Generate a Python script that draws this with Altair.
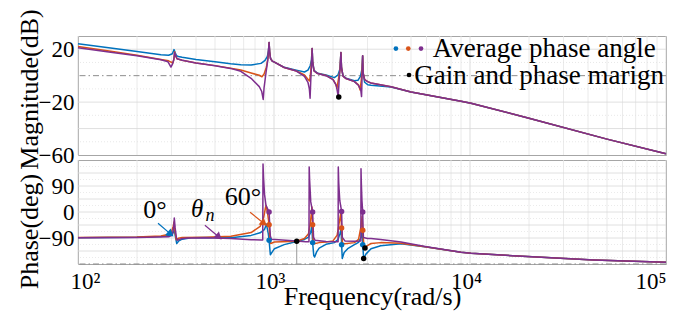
import altair as alt
import pandas as pd

FONT = "Liberation Serif"
BLUE, ORANGE, PURPLE = "#0072BD", "#D95319", "#7E2F8E"

# ---------------- magnitude (dB) ----------------
mag_blue_f = [100, 150, 200, 265, 290, 303, 309, 313, 318, 325, 340, 400, 500, 600, 677, 764, 859, 900, 925, 937,
              944, 950, 960, 980, 1005, 1127, 1300, 1430, 1490, 1530, 1553, 1565, 1575, 1600, 1671, 1842, 2032, 2120,
              2170, 2195, 2210, 2250, 2330, 2573, 2680, 2760, 2810, 2833, 2850, 2900, 3006, 3126, 3954, 5000, 9000,
              10116, 20000, 50000, 100000]
mag_blue_db = [24.2, 20.8, 18.3, 15.8, 15.4, 16.6, 19.7, 17.5, 15.2, 14.5, 13.9, 12.3, 10.5, 9.0, 8.3, 8.0, 9.3, 11.5,
               14.5, 19.0, 25.0, 18.0, 13.0, 11.0, 10.2, 6.3, 4.2, 2.8, 4.2, 7.5, 12.0, 20.5, 11.0, 4.0, 1.8, 0.5, -1.5,
               0.5, 5.0, 17.5, 6.0, 0.0, -2.0, -3.8, -3.5, -0.5, 5.0, 15.0, 2.0, -5.0, -6.8, -7.2, -8.6, -12.3, -19.3,
               -20.8, -32.2, -48.0, -59.0]

mag_orange_f = [100, 150, 200, 265, 290, 298, 305, 309, 311, 314, 320, 340, 400, 500, 600, 677, 764, 841, 868, 890,
                915, 935, 944, 950, 960, 980, 1005, 1127, 1300, 1430, 1500, 1520, 1540, 1556, 1565, 1575, 1600, 1671,
                1842, 2000, 2060, 2094, 2130, 2170, 2195, 2210, 2250, 2330, 2573, 2700, 2751, 2790, 2815, 2833, 2850,
                2900, 3006, 3126, 3954, 5000, 9000, 10116, 20000, 50000, 100000]
mag_orange_db = [22.0, 18.2, 15.5, 12.3, 11.2, 10.3, 9.6, 13.0, 18.0, 15.5, 12.8, 11.6, 9.6, 7.6, 5.6, 4.3, 2.0, 0.3,
                 -0.8, 1.2, 6.5, 15.0, 25.0, 18.0, 13.0, 11.0, 10.2, 6.2, 3.6, 0.5, -3.2, -4.0, 3.0, 12.0, 20.5, 10.0,
                 3.6, 1.6, 0.2, -2.8, -6.0, -9.5, -3.0, 4.0, 17.5, 6.0, -0.3, -2.2, -4.5, -7.0, -10.8, -3.0, 5.0, 15.0,
                 2.0, -3.0, -4.5, -5.5, -8.4, -12.3, -19.3, -20.8, -32.2, -48.0, -59.0]

mag_purple_f = [100, 150, 200, 265, 288, 298, 303, 308, 311, 314, 320, 340, 400, 500, 600, 677, 764, 841, 866, 881,
                890, 910, 930, 944, 950, 960, 980, 1005, 1127, 1300, 1430, 1490, 1515, 1528, 1540, 1556, 1565, 1575,
                1600, 1671, 1842, 2000, 2080, 2127, 2150, 2175, 2195, 2210, 2250, 2330, 2573, 2700, 2770, 2797, 2815,
                2833, 2850, 2900, 3006, 3126, 3954, 5000, 9000, 10116, 20000, 50000, 100000]
mag_purple_db = [21.2, 17.5, 15.0, 12.0, 10.5, 6.5, 8.5, 12.0, 17.5, 15.5, 12.8, 11.6, 9.6, 7.5, 5.5, 3.3, -2.0, -8.3,
                 -12.0, -18.0, -9.0, 2.0, 12.0, 25.0, 18.0, 13.0, 11.0, 10.2, 6.2, 3.5, -0.5, -5.0, -10.0, -17.0, -4.0,
                 10.0, 20.5, 10.0, 3.6, 1.6, 0.0, -3.0, -7.5, -15.8, -3.0, 6.0, 17.5, 6.0, -0.3, -2.2, -4.5, -7.5,
                 -10.5, -15.8, 0.0, 15.0, 2.0, -3.0, -4.5, -5.5, -8.4, -12.3, -19.3, -20.8, -32.2, -48.0, -59.0]

# ---------------- phase (deg) ----------------
ph_blue_f = [100, 200, 265, 290, 303, 310, 314, 319, 327, 340, 378, 450, 603, 764, 850, 895, 915, 935, 944, 958, 980,
             1005, 1127, 1306, 1430, 1500, 1540, 1560, 1574, 1595, 1612, 1650, 1700, 1842, 2032, 2120, 2170, 2200,
             2213, 2230, 2280, 2377, 2573, 2700, 2790, 2822, 2836, 2867, 2950, 3126, 3500, 4446, 6000, 9000, 10116,
             19600, 42800, 100000]
ph_blue_deg = [-89, -87.5, -85, -81, -76, -63, -85, -109, -100, -94, -89.5, -88.5, -89, -81, -72, -60, -42, -75, -98,
               -148, -138, -127, -113, -102, -95, -87, -70, -46, -106, -150, -156, -138, -125, -112, -106, -95, -75,
               -57, -113, -161, -140, -127, -113, -105, -85, -62, -113, -161, -145, -127, -117, -110, -121, -139,
               -143, -154, -166, -174]

ph_orange_f = [100, 200, 265, 287, 300, 306, 309, 313, 317, 325, 340, 450, 603, 764, 850, 885, 905, 912, 930, 944, 952,
               962, 1005, 1306, 1430, 1500, 1535, 1555, 1561, 1574, 1585, 1605, 1700, 1842, 2000, 2100, 2160, 2190,
               2213, 2235, 2300, 2573, 2700, 2780, 2815, 2836, 2870, 2912, 2980, 3126, 3500, 4446, 6000, 9000, 10116,
               19600, 42800, 100000]
ph_orange_deg = [-88, -86.5, -83, -78, -68, -50, -35, -70, -96, -91, -88.5, -87, -84, -71, -50, -20, 15, 23, -10, -44,
                 -95, -109, -104, -101, -92, -75, -35, 5, 17, -44, -100, -110, -106, -104, -100, -80, -30, -5, -55,
                 -108, -110, -106, -95, -50, -15, -63, -110, -125, -117, -109, -106, -108, -121, -139, -143, -154,
                 -166, -174]

ph_purple_f = [100, 200, 290, 303, 308, 310, 313, 318, 322, 335, 360, 450, 603, 764, 860, 876, 879, 884, 895, 910, 944,
               952, 958, 970, 1306, 1450, 1508, 1512, 1520, 1540, 1574, 1583, 1592, 1620, 1842, 2100, 2124, 2128, 2140,
               2165, 2213, 2222, 2232, 2300, 2573, 2775, 2779, 2790, 2810, 2836, 2845, 2860, 3000, 3126, 3500, 4446,
               6000, 9000, 10116, 19600, 42800, 100000]
ph_purple_deg = [-89.5, -88, -86, -80, -50, -21, -55, -90, -98, -93, -90, -89, -92, -96, -97, -97, 166, 120, 60, 23, 0,
                 -50, -83, -94, -100, -103, -103, 156, 110, 35, 0, -50, -88, -98, -102, -103, -103, 156, 100, 40, 2,
                 -50, -88, -100, -101, -100, 150, 100, 40, 0, -50, -88, -92, -92, -95, -104, -120, -139, -143, -154,
                 -166, -174]

# markers
ph_dot_f = [944, 1574, 2213, 2836]
ph_dot_blue = [-98, -106, -113, -113]
ph_dot_orange = [-44, -44, -55, -63]
ph_dot_purple = [0, 0, 2, 0]
margin_ph_f = [1306, 2912, 2867]
margin_ph_deg = [-101, -125, -161]
margin_mag_f = [2140]
margin_mag_db = [-16.2]
pm_line_f = [1306]
pm_line_top = [-101]
pm_line_bottom = [-180]

# axes / grids
x_ticks = [100, 1000, 10000, 100000]
x_tick_text = ["10²", "10³", "10⁴", "10⁵"]
x_minor = [200, 300, 400, 500, 600, 700, 800, 900, 2000, 3000, 4000, 5000, 6000, 7000, 8000, 9000,
           20000, 30000, 40000, 50000, 60000, 70000, 80000, 90000]
mag_ticks = [20, -20, -60]
mag_grid = [20, -20, -40]
mag_grid_minor = [10, -10, -30, -50]
mag_ref = [0]
ph_ticks = [90, 0, -90]
ph_grid = [135, 90, 45, 0, -45, -90, -135]
ph_grid_minor = [157.5, 112.5, 67.5, 22.5, -22.5, -67.5, -112.5, -157.5]
ph_ref = [-180]

# legend / annotations
leg_dot_f = [4188, 4843, 5624]
leg_dot_db = [20.5, 20.5, 20.5]
leg_dot_col = [BLUE, ORANGE, PURPLE]
leg_text = ["Average phase angle", "Gain and phase marign"]
leg_text_f = [6457, 5200]
leg_text_db = [14.25, -6.4]
leg_black_f = [4886]
leg_black_db = [0.5]

ann_text = ["0°", "60°"]
ann_f = [247, 695]
ann_deg = [6, 52]
theta_f, theta_deg = [405], [12]
sub_f, sub_deg = [472], [-15]
arrow_f1 = [256, 444, 755]
arrow_d1 = [-39, -46, -1]
arrow_f2 = [294, 518, 880]
arrow_d2 = [-74, -84, -37]
arrow_col = [BLUE, PURPLE, ORANGE]
arrow_ang = [130, 131, 128]

W = 588
x_scale = alt.Scale(type="log", domain=[100, 100000], nice=False)
mag_scale = alt.Scale(domain=[-60, 30], nice=False)
ph_scale = alt.Scale(domain=[-180, 180], nice=False)

label_expr = " : ".join(f"datum.value == {v} ? '{t}'" for v, t in zip(x_ticks, x_tick_text)) + " : ''"

AX = dict(grid=False, ticks=False, domain=False, labelFont=FONT, titleFont=FONT, labelColor="black",
          titleColor="black", titleFontWeight="normal")

X_TOP = alt.X("f:Q", scale=x_scale, axis=None)
X_BOT = alt.X("f:Q", scale=x_scale, axis=alt.Axis(
    values=x_ticks, labelExpr=label_expr, labelFontSize=23, labelPadding=6, labelFlush=True,
    labelFlushOffset=4, labelOffset=-4, title="Frequency(rad/s)", titleFontSize=26, titleY=40,
    titleBaseline="alphabetic", **AX))
Y_MAG = alt.Y("v:Q", scale=mag_scale, axis=alt.Axis(
    values=mag_ticks, labelFontSize=23, labelPadding=4, title="Magnitude(dB)", titleFontSize=26,
    titleX=-49, titleY=53, titleBaseline="middle", **AX))
Y_PH = alt.Y("v:Q", scale=ph_scale, axis=alt.Axis(
    values=ph_ticks, labelFontSize=23, labelPadding=4, title="Phase(deg)", titleFontSize=26,
    titleX=-49, titleY=71, titleBaseline="middle", **AX))


def d(**cols):
    return pd.DataFrame(cols)


def vgrid(X, vals, color, dash=None):
    m = alt.Chart(d(f=vals)).mark_rule(color=color, strokeWidth=0.8, **({"strokeDash": dash} if dash else {}))
    return m.encode(x=X)


def hgrid(Y, vals, color, dash=None, width=0.8):
    m = alt.Chart(d(v=vals)).mark_rule(color=color, strokeWidth=width, **({"strokeDash": dash} if dash else {}))
    return m.encode(y=Y)


def line(X, Y, f, v, color):
    return alt.Chart(d(f=f, v=v)).mark_line(color=color, strokeWidth=1.5, strokeJoin="round").encode(x=X, y=Y)


def dots(X, Y, f, v, color, size=30):
    return alt.Chart(d(f=f, v=v)).mark_circle(color=color, size=size, opacity=1).encode(x=X, y=Y)


# ---------------- top panel ----------------
top = alt.layer(
    vgrid(X_TOP, x_minor, "#e4e4e4"),
    vgrid(X_TOP, x_ticks, "#d4d4d4"),
    hgrid(Y_MAG, mag_grid_minor, "#e2e2e2", [1, 2]),
    hgrid(Y_MAG, mag_grid, "#d8d8d8"),
    hgrid(Y_MAG, mag_ref, "#8c8c8c", [6, 3, 1.5, 3], 1),
    line(X_TOP, Y_MAG, mag_blue_f, mag_blue_db, BLUE),
    line(X_TOP, Y_MAG, mag_orange_f, mag_orange_db, ORANGE),
    line(X_TOP, Y_MAG, mag_purple_f, mag_purple_db, PURPLE),
    dots(X_TOP, Y_MAG, margin_mag_f, margin_mag_db, "black", 30),
    alt.Chart(d(f=leg_dot_f, v=leg_dot_db, c=leg_dot_col)).mark_circle(size=22, opacity=1).encode(
        x=X_TOP, y=Y_MAG, color=alt.Color("c:N", scale=None)),
    dots(X_TOP, Y_MAG, leg_black_f, leg_black_db, "black", 22),
    alt.Chart(d(f=leg_text_f, v=leg_text_db, t=leg_text)).mark_text(
        align="left", baseline="alphabetic", font=FONT, fontSize=27, color="black").encode(
        x=X_TOP, y=Y_MAG, text="t:N"),
).properties(width=W, height=119)

# ---------------- bottom panel ----------------
bottom = alt.layer(
    vgrid(X_BOT, x_minor, "#e4e4e4"),
    vgrid(X_BOT, x_ticks, "#d4d4d4"),
    hgrid(Y_PH, ph_grid_minor, "#e6e6e6", [1, 2]),
    hgrid(Y_PH, ph_grid, "#d8d8d8"),
    hgrid(Y_PH, ph_ref, "#8c8c8c", [6, 3, 1.5, 3], 1),
    alt.Chart(d(f=pm_line_f, v=pm_line_top, v2=pm_line_bottom)).mark_rule(color="#9a9a9a", strokeWidth=1).encode(
        x=X_BOT, y=Y_PH, y2="v2:Q"),
    line(X_BOT, Y_PH, ph_blue_f, ph_blue_deg, BLUE),
    line(X_BOT, Y_PH, ph_orange_f, ph_orange_deg, ORANGE),
    line(X_BOT, Y_PH, ph_purple_f, ph_purple_deg, PURPLE),
    dots(X_BOT, Y_PH, ph_dot_f, ph_dot_blue, BLUE),
    dots(X_BOT, Y_PH, ph_dot_f, ph_dot_orange, ORANGE),
    dots(X_BOT, Y_PH, ph_dot_f, ph_dot_purple, PURPLE),
    dots(X_BOT, Y_PH, margin_ph_f, margin_ph_deg, "black", 30),
    alt.Chart(d(f=arrow_f1, v=arrow_d1, f2=arrow_f2, v2=arrow_d2, c=arrow_col)).mark_rule(strokeWidth=1.2).encode(
        x=X_BOT, y=Y_PH, x2="f2:Q", y2="v2:Q", color=alt.Color("c:N", scale=None)),
    alt.Chart(d(f=arrow_f2, v=arrow_d2, c=arrow_col, a=arrow_ang)).mark_point(
        shape="triangle", filled=True, size=70, opacity=1).encode(
        x=X_BOT, y=Y_PH, color=alt.Color("c:N", scale=None), angle=alt.Angle("a:Q", scale=None)),
    alt.Chart(d(f=ann_f, v=ann_deg, t=ann_text)).mark_text(
        align="center", baseline="middle", font=FONT, fontSize=26, color="black").encode(
        x=X_BOT, y=Y_PH, text="t:N"),
    alt.Chart(d(f=theta_f, v=theta_deg, t=["θ"])).mark_text(
        align="center", baseline="middle", font=FONT, fontSize=25, fontStyle="italic", color="black").encode(
        x=X_BOT, y=Y_PH, text="t:N"),
    alt.Chart(d(f=sub_f, v=sub_deg, t=["n"])).mark_text(
        align="center", baseline="middle", font=FONT, fontSize=18, fontStyle="italic", color="black").encode(
        x=X_BOT, y=Y_PH, text="t:N"),
).properties(width=W, height=104)

chart = alt.vconcat(top, bottom, spacing=5, bounds="flush").properties(
    padding={"left": 7, "top": 0, "right": 8, "bottom": 2}
).configure_view(stroke="#a6a6a6", strokeWidth=1).configure_axis(
    labelFont=FONT, titleFont=FONT, labelColor="black", titleColor="black", titleFontWeight="normal"
)

chart.save("out.html", embed_options={"renderer": "svg", "actions": False})
